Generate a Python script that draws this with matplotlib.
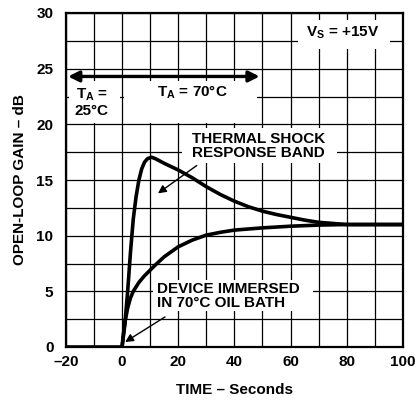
import matplotlib
matplotlib.use("Agg")
import matplotlib.pyplot as plt
from matplotlib.patches import Rectangle

# upper edge of the thermal shock response band
t_upper = [-20, 0, 1, 2, 3, 4, 5, 6, 7, 8, 9, 10.5, 12, 15, 20, 25, 30, 35, 40,
           45, 50, 55, 60, 65, 70, 75, 80, 100]
g_upper = [0, 0, 2, 5, 8.5, 11.5, 13.5, 15, 16, 16.6, 16.9, 17.05, 16.9, 16.5,
           15.9, 15.2, 14.4, 13.7, 13.1, 12.6, 12.2, 11.9, 11.65, 11.4, 11.2,
           11.1, 11.0, 11.0]

# lower edge
t_lower = [0, 0.5, 1, 2, 3, 4, 6, 8, 10, 12, 15, 20, 25, 30, 35, 40, 50, 60, 70,
           80, 100]
g_lower = [0, 1.2, 2.2, 3.5, 4.4, 5.0, 5.8, 6.4, 6.9, 7.4, 8.1, 9.0, 9.6, 10.05,
           10.3, 10.5, 10.7, 10.85, 10.95, 11.0, 11.0]

x_ticks = [-20, 0, 20, 40, 60, 80, 100]
x_labels = ['\u201320', '0', '20', '40', '60', '80', '100']
y_ticks = [0, 5, 10, 15, 20, 25, 30]

plt.rcParams['font.family'] = ['Liberation Sans', 'DejaVu Sans']
plt.rcParams['font.weight'] = 'bold'
plt.rcParams['mathtext.fontset'] = 'custom'
plt.rcParams['mathtext.bf'] = 'Liberation Sans:bold'
plt.rcParams['mathtext.rm'] = 'Liberation Sans:bold'
fs = 11

fig = plt.figure(figsize=(4.17, 4.0), dpi=100)
ax = fig.add_axes([0.158, 0.1325, 0.808, 0.835])

ax.set_xlim(-20, 100)
ax.set_ylim(0, 30)
ax.set_xticks(x_ticks)
ax.set_yticks(y_ticks)
ax.set_xticks(range(-20, 101, 10), minor=True)
ax.set_yticks([i * 2.5 for i in range(13)], minor=True)
ax.grid(True, which='both', color='black', linewidth=0.9, zorder=1)
ax.tick_params(which='both', length=0, labelsize=fs)
ax.tick_params(axis='x', pad=6)
ax.tick_params(axis='y', pad=9)
ax.set_xticklabels(x_labels, fontweight='bold')
ax.set_yticklabels([str(v) for v in y_ticks], fontweight='bold')
for s in ax.spines.values():
    s.set_linewidth(1.6)

ax.plot(t_upper, g_upper, color='black', linewidth=2.6, zorder=4)
ax.plot(t_lower, g_lower, color='black', linewidth=2.6, zorder=4)

# white backgrounds that hide the grid behind the labels
for x0, y0, w, h in [(62.6, 26.8, 32.7, 2.6), (-19, 20.15, 18.4, 3.7),
                     (0.6, 20.15, 47.6, 3.7), (21.3, 16.5, 55.2, 3.2),
                     (11, 3.2, 57, 2.8)]:
    ax.add_patch(Rectangle((x0, y0), w, h, facecolor='white', edgecolor='none',
                           zorder=2))

ax.text(78.6, 28.2, r'V$_\mathbf{S}$ = +15V', fontsize=fs, fontweight='bold',
        ha='center', va='center', zorder=3)
ax.annotate('', xy=(-19.2, 24.3), xytext=(49, 24.3),
            arrowprops=dict(arrowstyle='<|-|>', color='black', lw=2.4,
                            mutation_scale=16, shrinkA=0, shrinkB=0), zorder=5)
ax.text(25, 22.9, r'T$_\mathbf{A}$ = 70°C', fontsize=fs, fontweight='bold',
        ha='center', va='center', zorder=3)
ax.text(-10.7, 22.0, r'T$_\mathbf{A}$ =' + '\n25°C', fontsize=fs,
        fontweight='bold', ha='center', va='center', linespacing=1.15,
        zorder=3)
ax.text(48.5, 18.05, 'THERMAL SHOCK\nRESPONSE BAND', fontsize=fs,
        fontweight='bold', ha='center', va='center', linespacing=1.05,
        zorder=3)
ax.annotate('', xy=(12.8, 13.8), xytext=(26.6, 16.3),
            arrowprops=dict(arrowstyle='-|>', color='black', lw=1.0,
                            mutation_scale=12, shrinkA=0, shrinkB=0), zorder=5)
ax.text(12.4, 4.6, 'DEVICE IMMERSED\nIN 70°C OIL BATH', fontsize=fs,
        fontweight='bold', ha='left', va='center', linespacing=1.05,
        zorder=3)
ax.annotate('', xy=(1.1, 0.45), xytext=(15.3, 2.7),
            arrowprops=dict(arrowstyle='-|>', color='black', lw=1.0,
                            mutation_scale=12, shrinkA=0, shrinkB=0), zorder=5)

ax.set_xlabel('TIME \u2013 Seconds', fontsize=fs, fontweight='bold', labelpad=10)
ax.set_ylabel('OPEN-LOOP GAIN \u2013 dB', fontsize=fs, fontweight='bold',
              labelpad=7)

fig.savefig('out.png', dpi=100)
